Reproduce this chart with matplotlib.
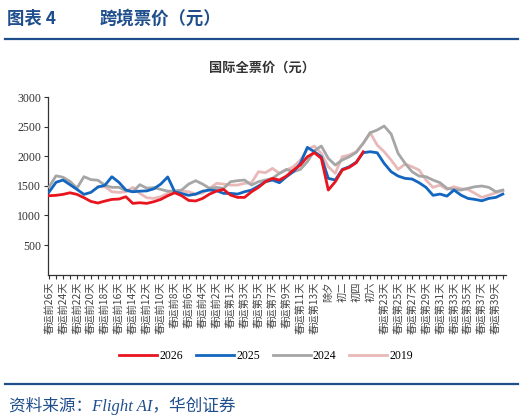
import matplotlib.pyplot as plt
from matplotlib.lines import Line2D

plt.rcParams['font.family'] = ['Noto Sans CJK SC', 'DejaVu Sans']

days = [
    '春运前26天', '春运前25天', '春运前24天', '春运前23天', '春运前22天', '春运前21天',
    '春运前20天', '春运前19天', '春运前18天', '春运前17天', '春运前16天', '春运前15天',
    '春运前14天', '春运前13天', '春运前12天', '春运前11天', '春运前10天', '春运前9天',
    '春运前8天', '春运前7天', '春运前6天', '春运前5天', '春运前4天', '春运前3天',
    '春运前2天', '春运前1天',
    '春运第1天', '春运第2天', '春运第3天', '春运第4天', '春运第5天', '春运第6天',
    '春运第7天', '春运第8天', '春运第9天', '春运第10天', '春运第11天', '春运第12天',
    '春运第13天', '春运第14天', '除夕', '初一', '初二', '初三', '初四', '初五', '初六',
    '春运第22天', '春运第23天', '春运第24天', '春运第25天', '春运第26天', '春运第27天',
    '春运第28天', '春运第29天', '春运第30天', '春运第31天', '春运第32天', '春运第33天',
    '春运第34天', '春运第35天', '春运第36天', '春运第37天', '春运第38天', '春运第39天',
    '春运第40天',
]

price_2026 = [1333, 1340, 1356, 1383, 1356, 1300, 1237, 1210, 1243, 1271, 1277, 1316,
              1204, 1215, 1204, 1232, 1271, 1333, 1383, 1333, 1254, 1245, 1288, 1361,
              1412, 1440, 1344, 1305, 1305, 1400, 1474, 1570, 1626, 1598, 1665, 1767,
              1851, 1991, 2059, 1964, 1429, 1570, 1767, 1812, 1890, 2076]

price_2025 = [1395, 1560, 1598, 1520, 1440, 1356, 1390, 1480, 1510, 1654, 1560, 1430,
              1400, 1410, 1415, 1450, 1530, 1650, 1400, 1370, 1340, 1360, 1410, 1429,
              1418, 1373, 1373, 1361, 1400, 1429, 1497, 1570, 1598, 1553, 1654, 1739,
              1880, 2150, 2076, 1991, 1626, 1598, 1778, 1823, 1900, 2060, 2076, 2059,
              1880, 1739, 1665, 1626, 1615, 1553, 1474, 1340, 1361, 1327, 1429, 1344,
              1288, 1271, 1248, 1288, 1305, 1361]

price_2024 = [1480, 1670, 1645, 1575, 1460, 1655, 1605, 1595, 1510, 1475, 1475, 1420,
              1400, 1520, 1460, 1470, 1440, 1410, 1410, 1430, 1530, 1587, 1530, 1457,
              1474, 1457, 1570, 1587, 1598, 1513, 1570, 1598, 1626, 1711, 1778, 1739,
              1778, 1908, 2093, 2172, 1964, 1851, 1936, 1991, 2065, 2218, 2397, 2442,
              2510, 2375, 2048, 1880, 1739, 1665, 1654, 1598, 1553, 1457, 1440, 1429,
              1457, 1485, 1497, 1474, 1400, 1429]

# 2019 series starts at 春运前19天
start_2019 = 7
price_2019 = [1485, 1485, 1400, 1390, 1400, 1474, 1373, 1299, 1288, 1316, 1373, 1412,
              1412, 1400, 1360, 1380, 1457, 1542, 1530, 1513, 1513, 1542, 1553, 1739,
              1722, 1795, 1711, 1767, 1823, 1936, 2116, 2172, 2048, 1823, 1711, 1991,
              2020, 2076, 2218, 2397, 2189, 2076, 1936, 1778, 1868, 1823, 1767, 1598,
              1474, 1513, 1440, 1485, 1451, 1440, 1373, 1305, 1344, 1384, 1418]

navy = '#1F4E8C'
serif_cjk = ['Liberation Serif', 'Noto Sans CJK SC']

fig = plt.figure(figsize=(5.24, 4.2), dpi=100)
ax = fig.add_axes([0.0916, 0.346, 0.874, 0.423])

x = list(range(len(days)))
ax.plot(x[:len(price_2026)], price_2026, color='#E8141E', lw=2.0, label='2026', zorder=5)
ax.plot(x, price_2025, color='#1366C0', lw=2.0, label='2025', zorder=4)
ax.plot(x, price_2024, color='#A6A6A6', lw=2.0, label='2024', zorder=3)
ax.plot(x[start_2019:start_2019 + len(price_2019)], price_2019, color='#E8B9B8',
        lw=2.0, label='2019', zorder=2)

ax.set_ylim(0, 3000)
ax.set_yticks([500, 1000, 1500, 2000, 2500, 3000])
ax.set_yticklabels(['500', '1000', '1500', '2000', '2500', '3000'],
                   family='Liberation Serif', fontsize=8.5, color='#333333')
ax.set_xlim(-0.15, 65.45)
ax.set_xticks(x)
ax.set_xticklabels([d if i % 2 == 0 else '' for i, d in enumerate(days)],
                   rotation=90, fontsize=7.4, color='#444444')
ax.tick_params(axis='both', direction='out', length=3, width=0.8, color='#333333', pad=2)
for s in ['top', 'right']:
    ax.spines[s].set_visible(False)
for s in ['left', 'bottom']:
    ax.spines[s].set_color('#333333')
    ax.spines[s].set_linewidth(0.9)

handles = [Line2D([], [], color=c, lw=2.0) for c in ['#E8141E', '#1366C0', '#A6A6A6', '#E8B9B8']]
leg = fig.legend(handles, ['2026', '2025', '2024', '2019'], loc='center', ncol=4,
                 bbox_to_anchor=(0.508, 0.152), frameon=False, handlelength=3.2,
                 handletextpad=0.2, columnspacing=1.1,
                 prop={'family': 'Liberation Serif', 'size': 8.5})

fig.text(0.013, 0.955, '图表 4', fontsize=12.5, fontweight='bold',
         color=navy, va='center', ha='left')
fig.text(0.19, 0.955, '跨境票价（元）', fontsize=12.5, fontweight='bold',
         color=navy, va='center', ha='left')
fig.add_artist(Line2D([0.01, 0.988], [0.908, 0.908], color=navy, lw=1.6))
fig.text(0.5, 0.838, '国际全票价（元）', fontsize=9.5, fontweight='bold',
         color='#333333', va='center', ha='center')
fig.add_artist(Line2D([0.01, 0.988], [0.085, 0.085], color=navy, lw=1.6))
fig.text(0.018, 0.033, '资料来源：Flight AI，华创证券', fontsize=12, style='italic',
         family=serif_cjk, color=navy, va='center', ha='left')

fig.savefig('out.png', dpi=100)
